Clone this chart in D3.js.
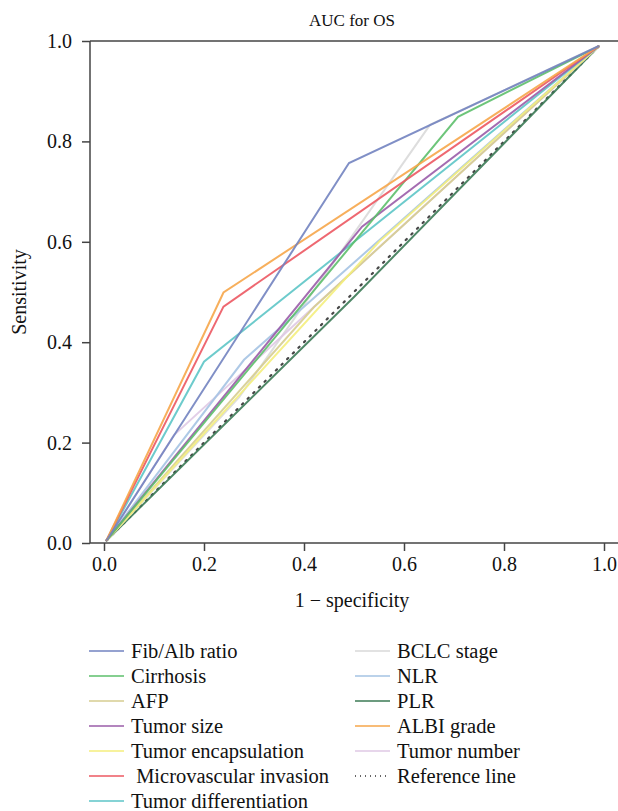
<!DOCTYPE html>
<html>
<head>
<meta charset="utf-8">
<script src="https://d3js.org/d3.v7.min.js"></script>
<style>
  body { margin: 0; background: #fff; }
  svg text { font-family: "Liberation Serif", "DejaVu Serif", serif; fill: #111; }
</style>
</head>
<body>
<svg width="618" height="811"></svg>

<script>
// ROC points (1 - specificity, sensitivity)
var fibAlb    = [[0.005, 0.005], [0.49, 0.757], [0.99, 0.99]];
var cirrhosis = [[0.005, 0.005], [0.708, 0.849], [0.99, 0.99]];
var afp       = [[0.005, 0.005], [0.42, 0.47], [0.99, 0.99]];
var tumSize   = [[0.005, 0.005], [0.516, 0.63], [0.99, 0.99]];
var encaps    = [[0.005, 0.005], [0.55, 0.6], [0.99, 0.99]];
var mvi       = [[0.005, 0.005], [0.239, 0.471], [0.99, 0.99]];
var diff      = [[0.005, 0.005], [0.2, 0.361], [0.99, 0.99]];
var bclc      = [[0.005, 0.005], [0.27, 0.29], [0.652, 0.833], [0.99, 0.99]];
var nlr       = [[0.005, 0.005], [0.28, 0.365], [0.99, 0.99]];
var plr       = [[0.005, 0.005], [0.5, 0.49], [0.99, 0.99]];
var albi      = [[0.005, 0.005], [0.239, 0.499], [0.99, 0.99]];
var tumNum    = [[0.005, 0.005], [0.14, 0.215], [0.99, 0.99]];
var refLine   = [[0.005, 0.005], [0.99, 0.99]];

var names = ['Fib/Alb ratio', 'Cirrhosis', 'AFP', 'Tumor size', 'Tumor encapsulation',
             ' Microvascular invasion', 'Tumor differentiation', 'BCLC stage', 'NLR', 'PLR',
             'ALBI grade', 'Tumor number', 'Reference line'];
var series = [fibAlb, cirrhosis, afp, tumSize, encaps, mvi, diff, bclc, nlr, plr, albi, tumNum, refLine];
var colors = ['#7283c0', '#5dbf6b', '#d6cd90', '#9a5ca8', '#f4ee7c', '#ec5862', '#5dc5c7',
              '#d9d9d9', '#a5c3e3', '#3b7a55', '#f6a64a', '#dfc9e4', '#333'];

var xTicks = [0, 0.2, 0.4, 0.6, 0.8, 1.0];
var yTicks = [0, 0.2, 0.4, 0.6, 0.8, 1.0];

var serif = '"Liberation Serif", "Times New Roman", "DejaVu Serif", serif';
var svg = d3.select('svg');
var plotL = 90, plotR = 618, plotT = 41, plotB = 543;

var x = d3.scaleLinear().domain([0, 1]).range([104, 604]);
var y = d3.scaleLinear().domain([0, 1]).range([plotB, plotT]);

// frame
svg.append('line').attr('x1', plotL).attr('x2', plotR).attr('y1', plotT).attr('y2', plotT)
   .attr('stroke', '#444').attr('stroke-width', 1.5);

var xAxis = svg.append('g').attr('transform', 'translate(0,' + plotB + ')')
  .call(d3.axisBottom(x).tickValues(xTicks).tickFormat(d3.format('.1f')).tickSize(8).tickPadding(6));
xAxis.select('.domain').attr('d', 'M' + plotL + ',0H' + plotR);

var yAxis = svg.append('g').attr('transform', 'translate(' + plotL + ',0)')
  .call(d3.axisLeft(y).tickValues(yTicks).tickFormat(d3.format('.1f')).tickSize(8).tickPadding(10));
yAxis.select('.domain').attr('d', 'M0,' + plotT + 'V' + plotB);

svg.selectAll('.domain, .tick line').attr('stroke', '#444').attr('stroke-width', 1.5);
svg.selectAll('.tick text').style('font-size', '20px').attr('fill', '#111');

svg.append('text').attr('x', 352).attr('y', 26).attr('text-anchor', 'middle')
   .style('font-size', '17px').text('AUC for OS');
svg.append('text').attr('x', 352).attr('y', 607).attr('text-anchor', 'middle')
   .style('font-size', '20px').text('1 \u2212 specificity');
svg.append('text').attr('transform', 'translate(26,292) rotate(-90)').attr('text-anchor', 'middle')
   .style('font-size', '20px').text('Sensitivity');

var line = d3.line().x(function(d) { return x(d[0]); }).y(function(d) { return y(d[1]); });

// draw in reverse so the first-listed curves sit on top
var order = [12, 9, 7, 11, 8, 2, 4, 6, 3, 1, 5, 10, 0];
svg.append('g').selectAll('path')
  .data(order)
  .enter()
  .append('path')
  .attr('d', function(i) { return line(series[i]); })
  .attr('fill', 'none')
  .attr('stroke', function(i) { return colors[i]; })
  .attr('stroke-width', function(i) { return i == 12 ? 2.2 : 2; })
  .attr('stroke-dasharray', function(i) { return i == 12 ? '1.5,6.5' : null; })
  .attr('stroke-linecap', function(i) { return i == 12 ? 'round' : 'butt'; })
  .attr('opacity', 0.9);

// legend, two columns
var leg = svg.append('g').selectAll('g')
  .data(names)
  .enter()
  .append('g')
  .attr('transform', function(d, i) {
    var col = i < 7 ? 0 : 1, row = i < 7 ? i : i - 7;
    return 'translate(' + (col ? 355 : 89) + ',' + (651 + row * 25) + ')';
  });

leg.append('line')
  .attr('x1', 0).attr('x2', 35).attr('y1', 0).attr('y2', 0)
  .attr('stroke', function(d, i) { return colors[i]; })
  .attr('stroke-width', function(d, i) { return i == 12 ? 1.3 : 1.6; })
  .attr('stroke-dasharray', function(d, i) { return i == 12 ? '1,4' : null; });

leg.append('text')
  .attr('x', 42).attr('y', 0).attr('dy', '0.32em')
  .style('font-size', '20.5px')
  .style('white-space', 'pre')
  .text(function(d) { return d; });

svg.selectAll('text').style('font-family', serif);
</script>
</body>
</html>
